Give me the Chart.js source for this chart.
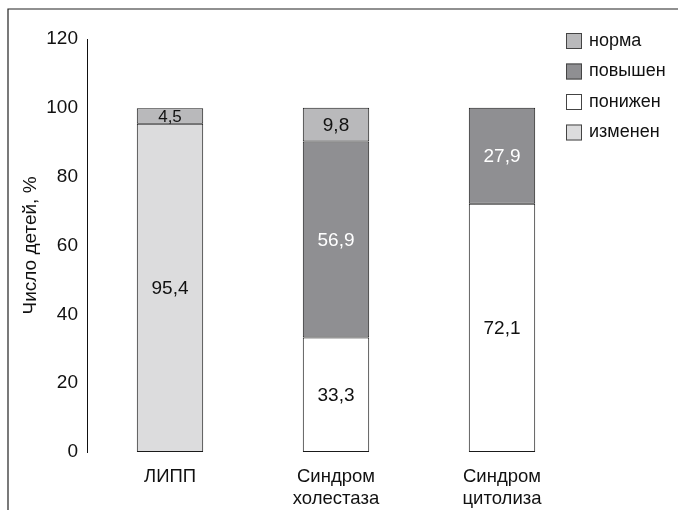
<!DOCTYPE html>
<html>
<head>
<meta charset="utf-8">
<script src="https://cdn.jsdelivr.net/npm/chart.js@4/dist/chart.umd.min.js"></script>
<style>
  html, body { margin: 0; padding: 0; background: #fff; }
  #wrap { width: 678px; height: 510px; position: relative; }
</style>
</head>
<body>
<div id="wrap"><canvas id="c" width="678" height="510"></canvas></div>
<script>
// Categories (x axis, multi-line labels)
const categories = [['ЛИПП'], ['Синдром', 'холестаза'], ['Синдром', 'цитолиза']];

// Shares of children, % (stacked bottom to top: изменен, понижен, повышен, норма)
const izmenen  = [95.4, null, null];
const ponizhen = [null, 33.3, 72.1];
const povyshen = [null, 56.9, 27.9];
const norma    = [4.5, 9.8, null];

// Y axis ticks
const yTicks = [0, 20, 40, 60, 80, 100, 120];

const FONT = "'Liberation Sans', Arial, Helvetica, sans-serif";
const INK = '#111111';

const datasets = [
  { label: 'изменен', data: izmenen,  backgroundColor: '#dcdcdd', labelColor: INK },
  { label: 'понижен', data: ponizhen, backgroundColor: '#ffffff', labelColor: INK },
  { label: 'повышен', data: povyshen, backgroundColor: '#8f8f92', labelColor: '#ffffff' },
  { label: 'норма',   data: norma,    backgroundColor: '#b9b9bb', labelColor: INK }
].map(d => Object.assign(d, {
  borderColor: '#1a1a1a',
  borderWidth: 1,
  borderSkipped: false,
  categoryPercentage: 0.8,
  barPercentage: 0.5
}));

// Outer frame lines (top and left edges)
const framePlugin = {
  id: 'frame',
  afterDraw(chart) {
    const ctx = chart.ctx;
    ctx.save();
    ctx.strokeStyle = '#222';
    ctx.lineWidth = 1.2;
    ctx.beginPath();
    ctx.moveTo(678, 9);
    ctx.lineTo(8, 9);
    ctx.lineTo(8, 510);
    ctx.stroke();
    ctx.restore();
  }
};

// Value labels centred in each stacked segment
const valueLabels = {
  id: 'valueLabels',
  afterDatasetsDraw(chart) {
    const ctx = chart.ctx;
    ctx.save();
    ctx.textAlign = 'center';
    ctx.textBaseline = 'middle';
    chart.data.datasets.forEach((ds, i) => {
      const meta = chart.getDatasetMeta(i);
      meta.data.forEach((el, j) => {
        const v = ds.data[j];
        if (v === null || v === undefined) return;
        const h = Math.abs(el.base - el.y);
        const size = h < 22 ? 17 : 19;
        ctx.font = size + 'px ' + FONT;
        ctx.fillStyle = ds.labelColor;
        ctx.fillText(String(v).replace('.', ','), el.x, (el.y + el.base) / 2 + 1);
      });
    });
    ctx.restore();
  }
};

// Legend box at the upper right, top entry first
const sideLegend = {
  id: 'sideLegend',
  afterDraw(chart) {
    const ctx = chart.ctx;
    const items = chart.data.datasets.slice().reverse();
    ctx.save();
    ctx.font = '18px ' + FONT;
    ctx.textAlign = 'left';
    ctx.textBaseline = 'middle';
    items.forEach((ds, k) => {
      const cy = 41 + k * 30.5;
      ctx.fillStyle = ds.backgroundColor;
      ctx.fillRect(566, cy - 8, 16, 16);
      ctx.strokeStyle = '#444';
      ctx.lineWidth = 1;
      ctx.strokeRect(566.5, cy - 7.5, 15, 15);
      ctx.fillStyle = INK;
      ctx.fillText(ds.label, 589, cy);
    });
    ctx.restore();
  }
};

new Chart(document.getElementById('c'), {
  type: 'bar',
  data: { labels: categories, datasets },
  options: {
    responsive: false,
    animation: false,
    layout: { padding: { left: 8, right: 93, top: 39, bottom: 0 } },
    plugins: {
      legend: { display: false },
      tooltip: { enabled: false }
    },
    scales: {
      x: {
        stacked: true,
        grid: { display: false, drawTicks: false },
        border: { display: false },
        ticks: { color: INK, padding: 14, font: { family: FONT, size: 18.5, lineHeight: 1.17 } },
        afterFit(s) { s.height = 58; }
      },
      y: {
        stacked: true,
        min: 0,
        max: 120,
        afterBuildTicks(s) { s.ticks = yTicks.map(v => ({ value: v })); },
        grid: { display: false, drawTicks: false },
        border: { display: true, color: '#111', width: 1 },
        ticks: { color: INK, padding: 9, font: { family: FONT, size: 19 } },
        title: {
          display: true,
          text: 'Число детей, %',
          color: INK,
          font: { family: FONT, size: 19, lineHeight: 1.2 },
          padding: { top: 11, bottom: 0 }
        },
        afterFit(s) { s.width = 79; }
      }
    }
  },
  plugins: [framePlugin, valueLabels, sideLegend]
});
</script>
</body>
</html>
